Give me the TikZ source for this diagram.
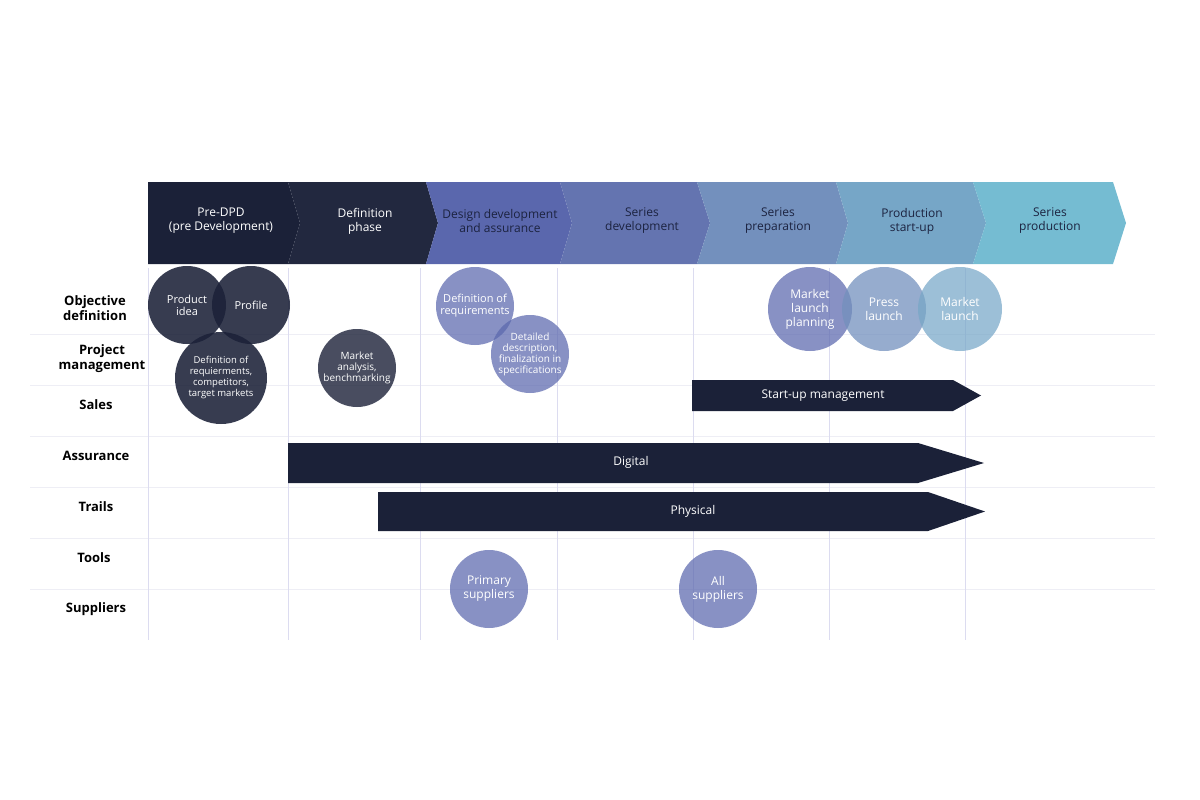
\documentclass[tikz,border=0pt]{standalone}
\usepackage{fontspec}
\setmainfont{Open Sans}
\begin{document}
\begin{tikzpicture}[x=1pt,y=-1pt,
  hdr/.style={font=\fontsize{12}{14}\selectfont,align=center},
  lbl/.style={font=\bfseries\fontsize{13}{15}\selectfont,align=center},
  circ/.style={circle,inner sep=0pt,align=center,text=white,font=\fontsize{11}{12}\selectfont},
  bar/.style={fill=navy},
  vline/.style={draw=vl,line width=0.7pt},
  hline/.style={draw=hl,line width=0.7pt}]
\definecolor{navy}{HTML}{1B2138}
\definecolor{vl}{HTML}{DCDCF0}
\definecolor{hl}{HTML}{EEEEF5}
\definecolor{c1}{HTML}{1B2138}
\definecolor{c2}{HTML}{22283F}
\definecolor{c3}{HTML}{5A67AD}
\definecolor{c4}{HTML}{6474B0}
\definecolor{c5}{HTML}{7390BD}
\definecolor{c6}{HTML}{76A6C7}
\definecolor{c7}{HTML}{75BCD2}
\definecolor{dk}{HTML}{1C2340}
\useasboundingbox (0,0) rectangle (1200,800);
% grid
\foreach \y in {334,385,436,487,538,589} \draw[hline] (30,\y) -- (1155,\y);
\foreach \x in {148,288,420,557,693,829,965} \draw[vline] (\x,268) -- (\x,640);
% header chevrons
\fill[c1] (148,182) -- (288,182) -- (300,223) -- (288,264) -- (148,264) -- cycle;
\fill[c2] (288,182) -- (426,182) -- (438,223) -- (426,264) -- (288,264) -- (300,223) -- cycle;
\fill[c3] (426,182) -- (560,182) -- (572,223) -- (560,264) -- (426,264) -- (438,223) -- cycle;
\fill[c4] (560,182) -- (697,182) -- (710,223) -- (697,264) -- (560,264) -- (572,223) -- cycle;
\fill[c5] (697,182) -- (836,182) -- (848,223) -- (836,264) -- (697,264) -- (710,223) -- cycle;
\fill[c6] (836,182) -- (973,182) -- (986,223) -- (973,264) -- (836,264) -- (848,223) -- cycle;
\fill[c7] (973,182) -- (1113,182) -- (1126,223) -- (1113,264) -- (973,264) -- (986,223) -- cycle;
\node[hdr,text=white] (h1) at (221,221) {Pre-DPD\\(pre Development)};
\node[hdr,text=white] (h2) at (365,221) {Definition\\phase};
\node[hdr,text=dk] (h3) at (500,221) {Design development\\and assurance};
\node[hdr,text=dk] (h4) at (642,221) {Series\\development};
\node[hdr,text=dk] (h5) at (778,221) {Series\\preparation};
\node[hdr,text=dk] (h6) at (912,221) {Production\\start-up};
\node[hdr,text=dk] (h7) at (1050,221) {Series\\production};
% row labels
\node[lbl] (r1) at (95,308) {Objective\\definition};
\node[lbl] (r2) at (102,359) {Project\\management};
\node[lbl] (r3) at (96,405) {Sales};
\node[lbl] (r4) at (96,456) {Assurance};
\node[lbl] (r5) at (96,507) {Trails};
\node[lbl] (r6) at (94,558) {Tools};
\node[lbl] (r7) at (96,609) {Suppliers};
% bars
\fill[bar] (692,380) -- (953,380) -- (981,395.5) -- (953,411) -- (692,411) -- cycle;
\node[text=white,font=\fontsize{12}{14}\selectfont] (b1) at (823,396) {Start-up management};
\fill[bar] (288,443) -- (918,443) -- (984,463) -- (918,483) -- (288,483) -- cycle;
\node[text=white,font=\fontsize{12}{14}\selectfont] (b2) at (631,462) {Digital};
\fill[bar] (378,492) -- (928,492) -- (985,511.5) -- (928,531) -- (378,531) -- cycle;
\node[text=white,font=\fontsize{12}{14}\selectfont] (b3) at (693,511) {Physical};
% circles
\node[circ,minimum size=78pt,fill=c1,fill opacity=0.88,text opacity=1] (pi) at (187,305) {Product\\idea};
\node[circ,minimum size=78pt,fill=c1,fill opacity=0.88,text opacity=1] (pr) at (251,305) {Profile};
\node[circ,minimum size=92pt,fill=c1,fill opacity=0.88,text opacity=1,font=\fontsize{9.5}{11}\selectfont] (dr) at (221,378) {Definition of\\requierments,\\competitors,\\target markets};
\node[circ,minimum size=78pt,fill=c1,fill opacity=0.8,text opacity=1,font=\fontsize{10}{11}\selectfont] (ma) at (357,368) {Market\\analysis,\\benchmarking};
\node[circ,minimum size=78pt,fill=c3,fill opacity=0.72,text opacity=1] (dq) at (475,306) {Definition of\\requirements};
\node[circ,minimum size=78pt,fill=c3,fill opacity=0.72,text opacity=1,font=\fontsize{10}{11}\selectfont] (dd) at (530,354) {Detailed\\description,\\finalization in\\specifications};
\node[circ,minimum size=84pt,fill=c3,fill opacity=0.72,text opacity=1,font=\fontsize{12}{14}\selectfont] (ml) at (810,309) {Market\\launch\\planning};
\node[circ,minimum size=84pt,fill=c5,fill opacity=0.75,text opacity=1,font=\fontsize{12}{14}\selectfont] (pl) at (884,309) {Press\\launch};
\node[circ,minimum size=84pt,fill=c6,fill opacity=0.72,text opacity=1,font=\fontsize{12}{14}\selectfont] (mk) at (960,309) {Market\\launch};
\node[circ,minimum size=78pt,fill=c3,fill opacity=0.72,text opacity=1,font=\fontsize{12}{14}\selectfont] (ps) at (489,589) {Primary\\suppliers};
\node[circ,minimum size=78pt,fill=c3,fill opacity=0.72,text opacity=1,font=\fontsize{12}{14}\selectfont] (as) at (718,589) {All\\suppliers};
\end{tikzpicture}
\end{document}
